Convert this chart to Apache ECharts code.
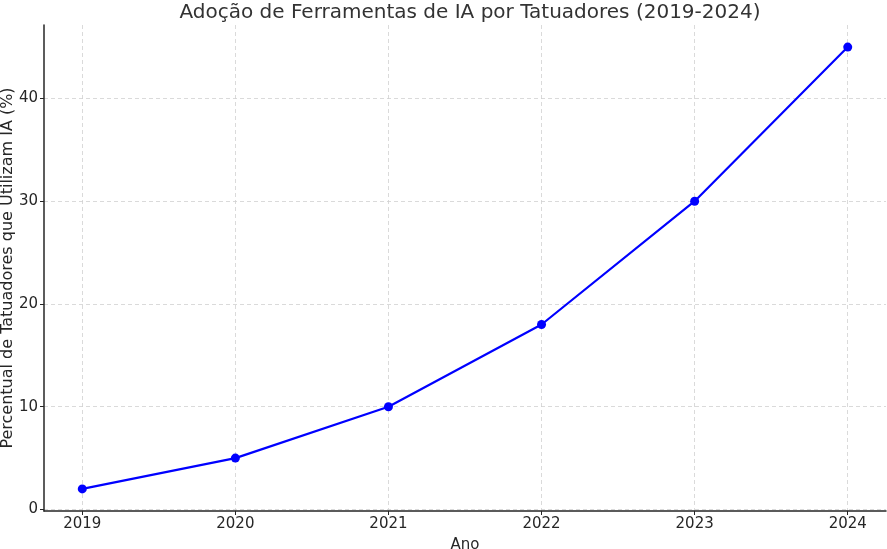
<!DOCTYPE html>
<html>
<head>
<meta charset="utf-8">
<script src="https://cdn.jsdelivr.net/npm/echarts@6/dist/echarts.min.js"></script>
<style>
html,body{margin:0;padding:0;background:#fff;}
#chart{width:887px;height:549px;}
</style>
</head>
<body>
<div id="chart"></div>
<script>
var anos = [2019, 2020, 2021, 2022, 2023, 2024];
var percentual = [2, 5, 10, 18, 30, 45];
var yTicks = [0, 10, 20, 30, 40];

var chart = echarts.init(document.getElementById('chart'));
var pontos = [];
for (var i = 0; i < anos.length; i++) pontos.push([anos[i], percentual[i]]);

var fonte = 'DejaVu Sans';
var option = {
  animation: false,
  textStyle: {fontFamily: fonte},
  title: {
    text: 'Adoção de Ferramentas de IA por Tatuadores (2019-2024)',
    left: 465, top: -2, textAlign: 'center',
    textStyle: {fontFamily: fonte, fontSize: 20, fontWeight: 'normal', color: '#333'}
  },
  // rótulo do eixo y como texto solto (o nome do eixo ficava cortado)
  graphic: [{
    type: 'text', x: 8, y: 268, rotation: Math.PI / 2,
    style: {
      text: 'Percentual de Tatuadores que Utilizam IA (%)',
      fontFamily: fonte, fontSize: 16, fill: '#262626',
      align: 'center', verticalAlign: 'middle'
    }
  }],
  grid: {left: 44, right: 1, top: 25, bottom: 38, containLabel: false, outerBoundsMode: 'none'},
  xAxis: {
    type: 'value', min: 2018.75, max: 2024.25,
    name: 'Ano', nameLocation: 'middle', nameGap: 27,
    nameTextStyle: {fontFamily: fonte, fontSize: 15, color: '#262626'},
    axisLine: {show: true, onZero: false, lineStyle: {color: '#262626', width: 1.5}},
    axisTick: {show: true, customValues: anos, length: 4, lineStyle: {color: '#262626'}},
    axisLabel: {customValues: anos, fontFamily: fonte, fontSize: 15, color: '#262626', margin: 6,
      formatter: function (v) { return String(v); }},
    splitLine: {show: true, lineStyle: {color: '#d0d0d0', type: [4, 3], width: 0.8}}
  },
  yAxis: {
    type: 'value', min: -0.15, max: 47.15,
    axisLine: {show: true, onZero: false, lineStyle: {color: '#262626', width: 1.5}},
    axisTick: {show: true, customValues: yTicks, length: 4, lineStyle: {color: '#262626'}},
    axisLabel: {customValues: yTicks, fontFamily: fonte, fontSize: 15, color: '#262626', margin: 6},
    splitLine: {show: true, lineStyle: {color: '#d0d0d0', type: [4, 3], width: 0.8}}
  },
  series: [{
    type: 'line',
    data: pontos,
    symbol: 'circle', symbolSize: 9,
    itemStyle: {color: '#0000ff'},
    lineStyle: {color: '#0000ff', width: 2.2},
    z: 5
  }]
};
chart.setOption(option);
</script>
</body>
</html>
